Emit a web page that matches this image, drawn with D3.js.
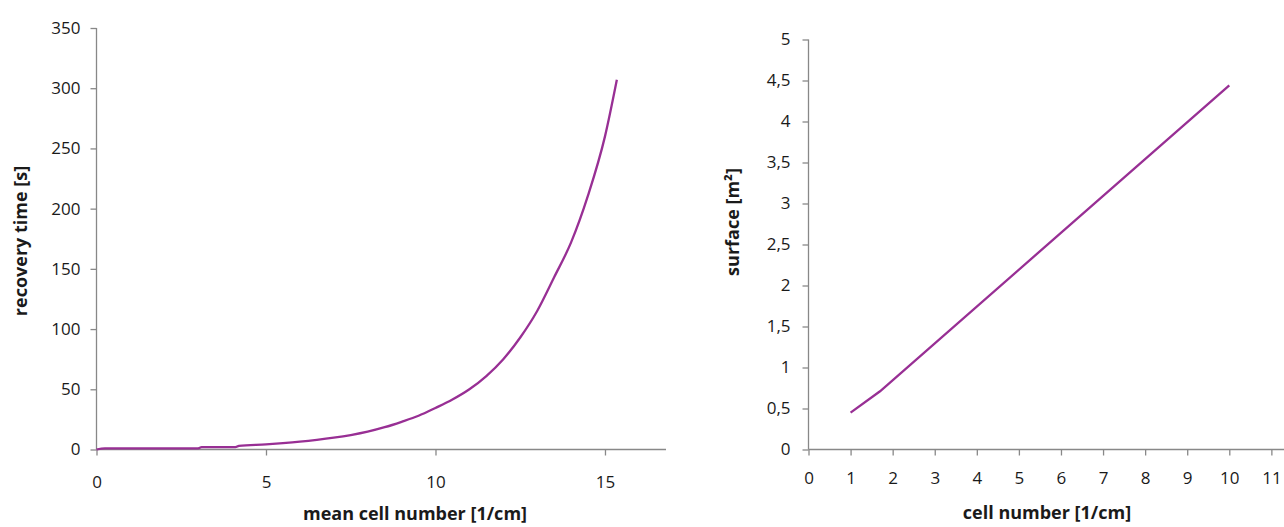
<!DOCTYPE html>
<html>
<head>
<meta charset="utf-8">
<script src="https://cdn.jsdelivr.net/npm/d3@7"></script>
<style>
  body { margin: 0; background: #fff; }
  svg text { font-family: "Open Sans", Lato, sans-serif; fill: #1a1a1a; }
</style>
</head>
<body>
<svg id="chart" width="1284" height="527"></svg>
<script>
const width = 1284, height = 527;

// left chart: recovery time vs mean cell number
const cellNumber = [0, 0.25, 3.0, 3.1, 4.1, 4.2, 5, 5.5, 6, 6.5, 7, 7.5, 8, 8.5, 9, 9.5, 10, 10.5, 11, 11.5, 12, 12.5, 13, 13.5, 14, 14.5, 15, 15.35];
const recoveryTime = [0, 1, 1, 2, 2, 3, 4.3, 5.3, 6.5, 8, 9.8, 12, 14.8, 18.5, 23, 28, 34.5, 41.5, 50, 61, 75, 93, 115, 143, 172, 211, 260, 307];
const leftYTicks = [0, 50, 100, 150, 200, 250, 300, 350];
const leftXTicks = [0, 5, 10, 15];

// right chart: surface vs cell number
const cellCount = [1, 1.7, 10];
const surface = [0.45, 0.71, 4.44];
const rightYTicks = [0, 0.5, 1, 1.5, 2, 2.5, 3, 3.5, 4, 4.5, 5];
const rightXTicks = [0, 1, 2, 3, 4, 5, 6, 7, 8, 9, 10, 11];

const lineColor = "#982f94";
const axisColor = "#888";
const svg = d3.select("#chart");

const comma = d => String(d).replace(".", ",");

function drawAxes(g, x, y, xTicks, yTicks, xPad, yPad, fmt) {
  const [x0, x1] = x.range();
  const [y0, y1] = y.range();

  const ya = g.append("g")
    .attr("transform", `translate(${x0},0)`)
    .call(d3.axisLeft(y).tickValues(yTicks).tickSize(6).tickPadding(yPad).tickFormat(fmt));
  const xa = g.append("g")
    .attr("transform", `translate(0,${y0})`)
    .call(d3.axisBottom(x).tickValues(xTicks).tickSize(6).tickPadding(xPad).tickFormat(fmt));

  [xa, ya].forEach(a => {
    a.select(".domain").attr("stroke", axisColor).attr("stroke-width", 1.3)
    a.selectAll(".tick line").attr("stroke", axisColor).attr("stroke-width", 1.3);
    a.selectAll(".tick text").attr("font-size", 17).attr("fill", "#1a1a1a");
  });
  // plain lines without outer ticks
  ya.select(".domain").attr("d", `M0,${y0}V${y1}`);
  xa.select(".domain").attr("d", `M${x0},0H${x1}`);
}

// ---- left chart
const xL = d3.scaleLinear().domain([0, 16.8]).range([96.5, 666]);
const yL = d3.scaleLinear().domain([0, 350]).range([449.5, 28]);
const gL = svg.append("g");
drawAxes(gL, xL, yL, leftXTicks, leftYTicks, 20, 10, d => d);

const leftData = cellNumber.map((c, i) => ({ x: c, y: recoveryTime[i] }));
gL.append("path")
  .datum(leftData)
  .attr("fill", "none")
  .attr("stroke", lineColor)
  .attr("stroke-width", 2.3)
  .attr("d", d3.line().x(d => xL(d.x)).y(d => yL(d.y)).curve(d3.curveMonotoneX));

gL.append("text")
  .attr("x", 415).attr("y", 520)
  .attr("text-anchor", "middle")
  .attr("font-size", 18).attr("font-weight", "bold")
  .text("mean cell number [1/cm]");

gL.append("text")
  .attr("transform", "rotate(-90)")
  .attr("x", -241).attr("y", 27)
  .attr("text-anchor", "middle")
  .attr("font-size", 18).attr("font-weight", "bold")
  .text("recovery time [s]");

// ---- right chart
const xR = d3.scaleLinear().domain([0, 11.3]).range([808.5, 1284]);
const yR = d3.scaleLinear().domain([0, 5]).range([449.5, 39.5]);
const gR = svg.append("g");
drawAxes(gR, xR, yR, rightXTicks, rightYTicks, 16, 12, comma);

const rightData = cellCount.map((c, i) => ({ x: c, y: surface[i] }));
gR.append("path")
  .datum(rightData)
  .attr("fill", "none")
  .attr("stroke", lineColor)
  .attr("stroke-width", 2.3)
  .attr("d", d3.line().x(d => xR(d.x)).y(d => yR(d.y)));

gR.append("text")
  .attr("x", 1047).attr("y", 519)
  .attr("text-anchor", "middle")
  .attr("font-size", 18).attr("font-weight", "bold")
  .text("cell number [1/cm]");

gR.append("text")
  .attr("transform", "rotate(-90)")
  .attr("x", -222).attr("y", 739)
  .attr("text-anchor", "middle")
  .attr("font-size", 18).attr("font-weight", "bold")
  .text("surface [m²]");
</script>
</body>
</html>
